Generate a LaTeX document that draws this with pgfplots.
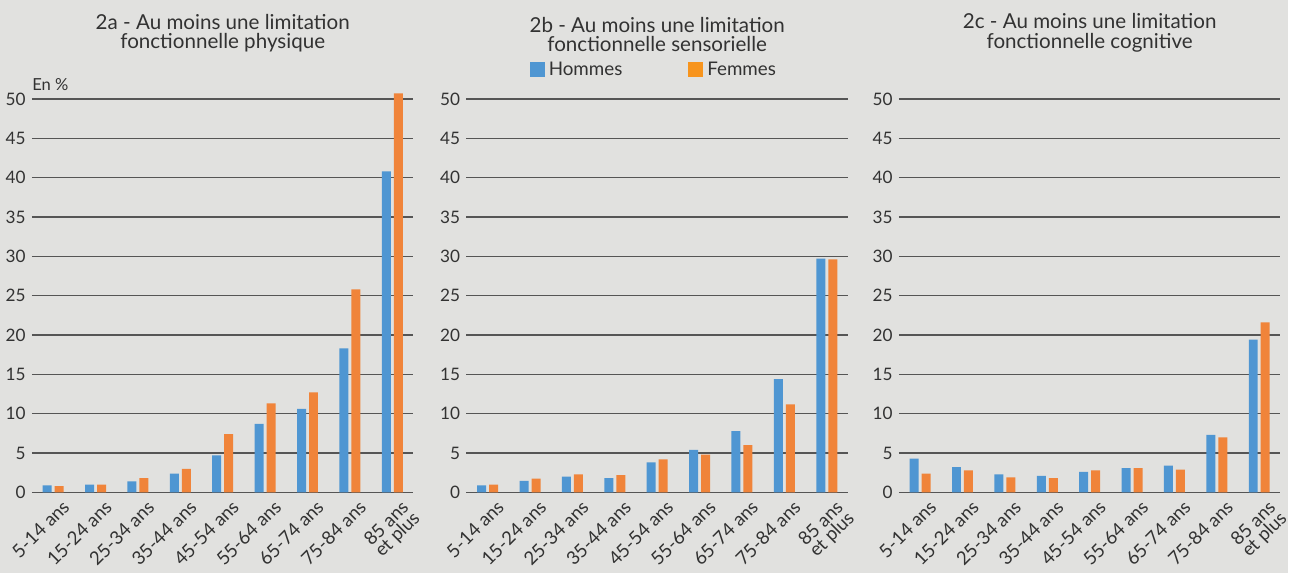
\documentclass[border=0pt]{standalone}
\usepackage{pgfplots}
\pgfplotsset{compat=1.18}
\usepackage{fontspec}
\setmainfont{Lato}
\definecolor{bg}{RGB}{225,225,223}
\definecolor{hblue}{RGB}{79,150,210}
\definecolor{forange}{RGB}{240,132,58}
\definecolor{lorange}{RGB}{247,148,29}
\definecolor{gridc}{RGB}{85,85,85}
\definecolor{txt}{RGB}{50,50,50}
\pgfplotsset{
 panel/.style={
  scale only axis, width=191pt, height=197pt,
  anchor=south west,
  ybar=1.5pt, bar width=4.5pt,
  xmin=-0.5, xmax=8.5, ymin=0, ymax=50,
  xtick={0,...,8},
  xticklabels={5-14 ans,15-24 ans,25-34 ans,35-44 ans,45-54 ans,55-64 ans,65-74 ans,75-84 ans,{85 ans\\et plus}},
  ytick={0,5,...,50},
  axis line style={draw=none},
  major tick length=0pt,
  ymajorgrids, major grid style={gridc, line width=0.65pt},
  tick label style={text=txt},
  xticklabel style={font=\fontsize{9.3}{7.8}\selectfont, align=center, anchor=north east, inner sep=0pt, xshift=4pt, yshift=-3pt, rotate=45},
  yticklabel style={font=\fontsize{8.6}{10}\selectfont, anchor=east, inner sep=0pt, xshift=-3pt},
  /pgf/number format/assume math mode=true,
  every axis title/.style={at={(0.5,1)}, anchor=south, yshift=20pt, align=center, font=\fontsize{10.3}{9.6}\selectfont, text=txt},
  clip=false,
 },
 hom/.style={fill=hblue, draw=none, legend image code/.code={\fill[hblue] (0pt,-3.75pt) rectangle (7.5pt,3.75pt);}},
 fem/.style={fill=forange, draw=none, legend image code/.code={\fill[lorange] (0pt,-3.75pt) rectangle (7.5pt,3.75pt);}},
}
\begin{document}
\begin{tikzpicture}
\fill[bg] (0,0) rectangle (645pt,287pt);
% Panel a
\begin{axis}[panel, at={(16pt,40.5pt)},
  title={2a - Au moins une limitation\\fonctionnelle physique}]
\addplot[hom] coordinates {(0,0.9) (1,1.0) (2,1.4) (3,2.4) (4,4.7) (5,8.7) (6,10.6) (7,18.3) (8,40.8)};
\addplot[fem] coordinates {(0,0.8) (1,1.0) (2,1.8) (3,3.0) (4,7.4) (5,11.3) (6,12.7) (7,25.8) (8,50.7)};
\node[anchor=base west, font=\fontsize{8.3}{10}\selectfont, text=txt, inner sep=0pt] at (rel axis cs:0,1) [yshift=4pt] {En \%};
\end{axis}
% Panel b
\begin{axis}[panel, at={(233.5pt,40.5pt)},
  title={2b - Au moins une limitation\\fonctionnelle sensorielle},
  legend style={at={(0.165,1)}, anchor=west, yshift=14.5pt, draw=none, fill=none, inner sep=0pt,
    legend columns=2, font=\fontsize{9.4}{10}\selectfont, text=txt,
    /tikz/every even column/.append style={column sep=31pt}},
  legend cell align=left]
\addplot[hom] coordinates {(0,0.9) (1,1.45) (2,2.0) (3,1.8) (4,3.8) (5,5.4) (6,7.8) (7,14.4) (8,29.7)};
\addplot[fem] coordinates {(0,1.0) (1,1.75) (2,2.3) (3,2.2) (4,4.2) (5,4.8) (6,6.0) (7,11.2) (8,29.6)};
\legend{Hommes, Femmes}
\end{axis}
% Panel c
\begin{axis}[panel, at={(450pt,40.5pt)},
  title={2c - Au moins une limitation\\fonctionnelle cognitive}]
\addplot[hom] coordinates {(0,4.3) (1,3.2) (2,2.3) (3,2.1) (4,2.6) (5,3.1) (6,3.4) (7,7.3) (8,19.4)};
\addplot[fem] coordinates {(0,2.4) (1,2.8) (2,1.9) (3,1.8) (4,2.8) (5,3.1) (6,2.9) (7,7.0) (8,21.6)};
\end{axis}
\end{tikzpicture}
\end{document}
